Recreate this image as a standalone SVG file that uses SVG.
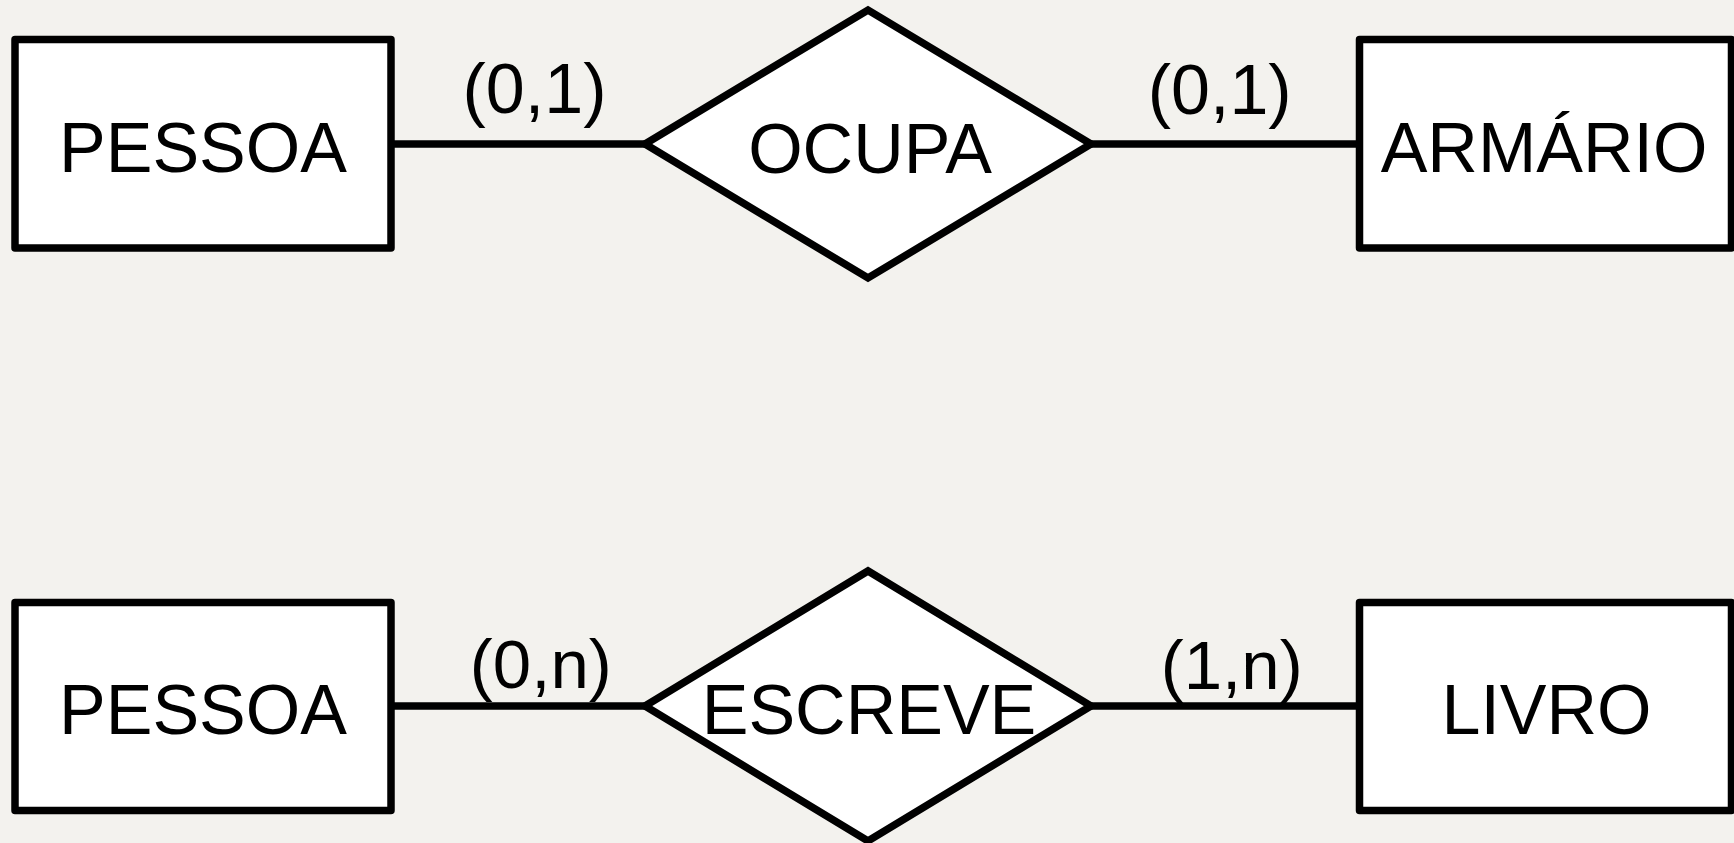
<svg xmlns="http://www.w3.org/2000/svg" width="1734" height="843" viewBox="0 0 1734 843">
  <style>
    .ent { fill: #ffffff; stroke: #000000; stroke-width: 7.5; stroke-linejoin: round; }
    .rel { fill: #ffffff; stroke: #000000; stroke-width: 7.5; stroke-linejoin: miter; }
    .conn { stroke: #000000; stroke-width: 7.5; fill: none; }
    .lbl { font-family: "Liberation Sans", Arial, sans-serif; font-size: 70px; fill: #000000; text-anchor: middle; }
    .card { font-family: "Liberation Sans", Arial, sans-serif; font-size: 70px; fill: #000000; text-anchor: middle; }
    .cardb { font-family: "Liberation Sans", Arial, sans-serif; font-size: 69px; fill: #000000; text-anchor: middle; }
  </style>
  <rect x="0" y="0" width="1734" height="843" fill="#f3f2ee"/>

  <g id="connectors">
    <line class="conn" x1="391" y1="144" x2="645" y2="144"/>
    <line class="conn" x1="1091" y1="144" x2="1360" y2="144"/>
    <line class="conn" x1="391" y1="706" x2="645" y2="706"/>
    <line class="conn" x1="1091" y1="706" x2="1360" y2="706"/>
    <text class="card" x="534.5" y="113">(0,1)</text>
    <text class="card" x="1219.7" y="114">(0,1)</text>
    <text class="cardb" x="540.8" y="688">(0,n)</text>
    <text class="cardb" x="1231.7" y="689">(1,n)</text>
  </g>

  <g id="pessoa1">
    <rect class="ent" x="15" y="39.5" width="376" height="208.5"/>
    <text class="lbl" x="203" y="172">PESSOA</text>
  </g>
  <g id="ocupa">
    <polygon class="rel" points="645,144 868,10 1091,144 868,278"/>
    <text class="lbl" x="870" y="173">OCUPA</text>
  </g>
  <g id="armario">
    <rect class="ent" x="1359.5" y="39.5" width="372" height="208.5"/>
    <text class="lbl" x="1544" y="172">ARMÁRIO</text>
  </g>

  <g id="pessoa2">
    <rect class="ent" x="15" y="602.5" width="376" height="208"/>
    <text class="lbl" x="203" y="734">PESSOA</text>
  </g>
  <g id="escreve">
    <polygon class="rel" points="645,706 868,571 1091,706 868,841"/>
    <text class="lbl" x="869" y="734">ESCREVE</text>
  </g>
  <g id="livro">
    <rect class="ent" x="1359.5" y="602.5" width="372" height="208"/>
    <text class="lbl" x="1546.5" y="734">LIVRO</text>
  </g>
</svg>
